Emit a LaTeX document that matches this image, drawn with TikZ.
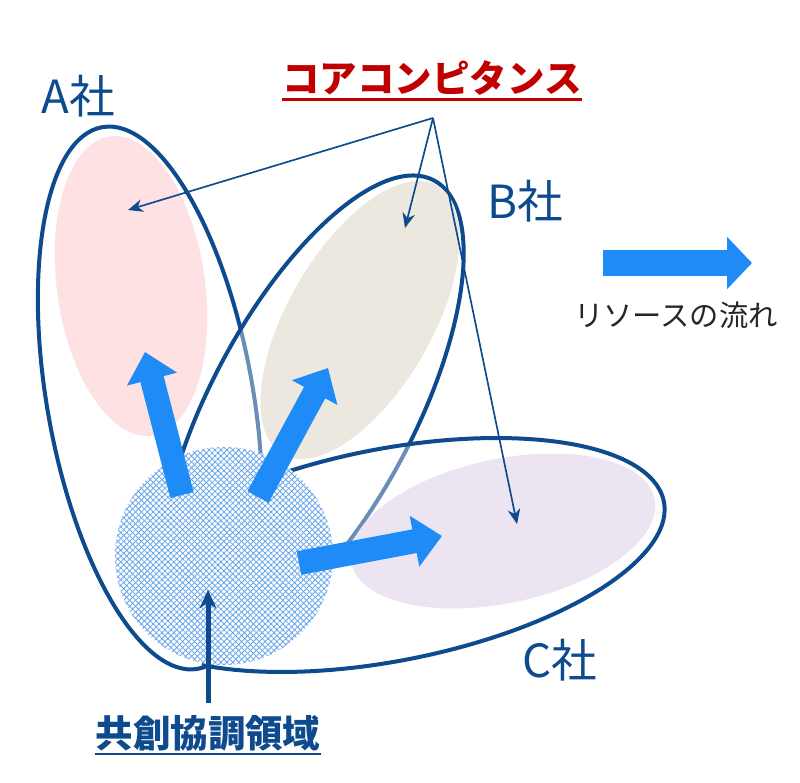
\documentclass[tikz,border=0pt]{standalone}
\usepackage{fontspec}
\setmainfont{Noto Sans CJK JP}
\usetikzlibrary{arrows.meta,patterns.meta}

\definecolor{lineblue}{HTML}{0E4A8E}
\definecolor{flowblue}{HTML}{1E8BF7}
\definecolor{titlered}{HTML}{C00000}
\definecolor{pinkcore}{HTML}{FDE1E3}
\definecolor{beigecore}{HTML}{ECE8E0}
\definecolor{lilaccore}{HTML}{ECE4F1}
\definecolor{meshblue}{HTML}{68A6EC}

\tikzset{
  company/.style={draw=lineblue, line width=1.2mm},
  veil/.style={fill=white, fill opacity=.38},
  flow/.style={flowblue, line width=7.2mm, -{Triangle[length=8.4mm,width=15mm]}},
  pointer/.style={lineblue, line width=.5mm, -{Stealth[length=4.5mm,width=3.8mm]}},
  namelabel/.style={text=lineblue, font=\fontsize{39}{39}\selectfont, inner sep=0},
  mesh/.style={pattern={Lines[angle=#1,distance=1.25mm,line width=.25mm]}, pattern color=meshblue}
}

\begin{document}
\begin{tikzpicture}[x=0.3mm, y=-0.3mm]
  \useasboundingbox (0,0) rectangle (800,783);

  % A社の枠とコア
  \draw[company, rotate around={100:(150,398)}] (150,398) ellipse [x radius=275, y radius=103];
  \fill[pinkcore, rotate around={98:(131,286)}] (131,286) ellipse [x radius=151, y radius=74];

  % B社の枠とコア
  \filldraw[company, veil, rotate around={62:(312,410)}] (312,410) ellipse [x radius=260, y radius=102];
  \fill[beigecore, rotate around={60:(360,320)}] (360,320) ellipse [x radius=155, y radius=72];

  % C社の枠とコア（左端は円の下に隠れる）
  \begin{scope}[shift={(389,555)}, rotate=11]
    \fill[veil] (-150:280 and 106) arc [start angle=-150, end angle=137, x radius=280, y radius=106] -- cycle;
    \draw[company] (-150:280 and 106) arc [start angle=-150, end angle=137, x radius=280, y radius=106];
  \end{scope}
  \fill[lilaccore, rotate around={12:(503,531)}] (503,531) ellipse [x radius=155, y radius=72];

  % 共創協調領域（網掛けの円）
  \fill[white] (224,556) circle [radius=109];
  \fill[mesh=45] (224,556) circle [radius=109];
  \fill[mesh=-45] (224,556) circle [radius=109];

  % 円から各社への太い矢印
  \coordinate (baseA) at (182,495);
  \coordinate (tipA) at (145,352);
  \coordinate (baseB) at (258,497);
  \coordinate (tipB) at (328,368);
  \coordinate (baseC) at (299,563);
  \coordinate (tipC) at (442,536);
  \foreach \s in {A,B,C} {
    \draw[flow] (base\s) -- (tip\s);
  }

  % コアコンピタンス
  \node[text=titlered, font=\fontsize{32}{32}\selectfont\bfseries, inner sep=0] (core) at (432,78) {コアコンピタンス};
  \draw[titlered, line width=.9mm] ([yshift=-1.2mm]core.south west) -- ([yshift=-1.2mm]core.south east);

  % コアへの細い矢印
  \coordinate (hub) at (433,118);
  \coordinate (coreA) at (128,210);
  \coordinate (coreB) at (405,228);
  \coordinate (coreC) at (517,524);
  \foreach \t in {coreA,coreB,coreC} {
    \draw[pointer] (hub) -- (\t);
  }

  % 社名
  \node[namelabel] (nameA) at (78,96) {A社};
  \node[namelabel] (nameB) at (525,201) {B社};
  \node[namelabel] (nameC) at (560,660) {C社};

  % 凡例：リソースの流れ
  \coordinate (legtail) at (603,263);
  \coordinate (leghead) at (752,263);
  \draw[flow, line width=7.8mm, -{Triangle[length=7.5mm,width=15.3mm]}] (legtail) -- (leghead);
  \node[text=black!85, font=\fontsize{25}{25}\selectfont, inner sep=0] (legname) at (676,315) {リソースの流れ};

  % 共創協調領域のラベル
  \node[text=lineblue, font=\fontsize{32}{32}\selectfont\bfseries, inner sep=0] (meshname) at (208,733) {共創協調領域};
  \draw[lineblue, line width=.6mm] ([yshift=-1mm]meshname.south west) -- ([yshift=-1mm]meshname.south east);
  \coordinate (meshtip) at (208,590);
  \draw[lineblue, line width=1.5mm, -{Stealth[length=5.5mm,width=5mm]}, shorten <=3.6mm] (meshname) -- (meshtip);

\end{tikzpicture}
\end{document}
